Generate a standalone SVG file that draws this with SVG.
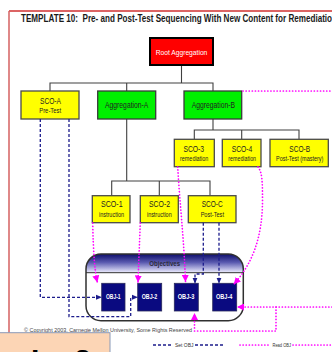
<svg xmlns="http://www.w3.org/2000/svg" width="332" height="352" viewBox="0 0 332 352">
<style>
text{font-family:"Liberation Sans",Arial,sans-serif;}
.title{font-size:10.5px;font-weight:bold;fill:#1a1a1a;white-space:pre;}
.lbl{font-size:8.5px;fill:#222;text-anchor:middle;}
.sub{font-size:6.5px;fill:#222;text-anchor:middle;}
.objt{font-size:6.5px;font-weight:bold;fill:#fff;text-anchor:middle;}
.yel{fill:#ffff00;stroke:#4a4a4a;stroke-width:1.3;}
.grn{fill:#00f000;stroke:#3a3a3a;stroke-width:1.3;}
.obj{fill:#0a0a80;stroke:#2a2a5a;stroke-width:0.8;}
.tree{fill:none;stroke:#404040;stroke-width:1.1;}
.set{fill:none;stroke:#1c1c8c;stroke-width:1.3;stroke-dasharray:3 2;}
.read{fill:none;stroke:#ff00ff;stroke-width:1.7;stroke-dasharray:0.1 3;stroke-linecap:round;}
.small{font-size:5.2px;fill:#444;}
.leg{font-size:6px;fill:#333;}
</style>
<defs>
<marker id="ab" markerUnits="userSpaceOnUse" markerWidth="6" markerHeight="6" viewBox="0 0 6 6" refX="5.5" refY="3" orient="auto">
<path d="M0,0.5 L6,3 L0,5.5 Z" fill="#1c1c8c"/>
</marker>
<marker id="am" markerUnits="userSpaceOnUse" markerWidth="7" markerHeight="7" viewBox="0 0 7 7" refX="6.5" refY="3.5" orient="auto">
<path d="M0,0 L7,3.5 L0,7 Z" fill="#ff00ff"/>
</marker>
<linearGradient id="hg" x1="0" y1="0" x2="0" y2="1">
<stop offset="0" stop-color="#0c0c6a"/>
<stop offset="0.45" stop-color="#5a5ab0"/>
<stop offset="1" stop-color="#eeeeff"/>
</linearGradient>
<clipPath id="cc"><rect x="86" y="254" width="157.3" height="66.7" rx="15" ry="15"/></clipPath>
<clipPath id="ov"><rect x="0" y="333" width="110" height="19"/></clipPath>
</defs>
<rect width="332" height="352" fill="#ffffff"/>
<!-- frame -->
<line x1="9" y1="11" x2="332" y2="11" stroke="#d03030" stroke-width="1.5"/>
<line x1="9" y1="11" x2="9" y2="334" stroke="#d46060" stroke-width="1.5"/>
<text class="title" x="21" y="22" textLength="316" lengthAdjust="spacingAndGlyphs">TEMPLATE 10:  Pre- and Post-Test Sequencing With New Content for Remediation</text>

<!-- tree lines -->
<g id="tree">
<path class="tree" d="M181.5,65 V83 M50,91 V83 H213 V91 M126.7,83 V91"/>
<path class="tree" d="M213,119 V130 M194.3,139.3 V130 H299 V139.3 M241.7,130 V139.3"/>
<path class="tree" d="M126.7,119 V181 M111.7,195.7 V181 H210 V195.7 M159.3,181 V195.7"/>
</g>

<g id="root">
<rect x="150" y="38" width="63" height="27" fill="#ff0000" stroke="#000" stroke-width="2"/>
<text x="181.5" y="55" font-size="8" fill="#fff" text-anchor="middle" textLength="51.7" lengthAdjust="spacingAndGlyphs">Root Aggregation</text>
</g>
<g id="sco-a">
<rect class="yel" x="21" y="91" width="58" height="28"/>
<text class="lbl" x="50.5" y="104" textLength="21" lengthAdjust="spacingAndGlyphs">SCO-A</text>
<text class="sub" x="50.2" y="113.3" textLength="22" lengthAdjust="spacingAndGlyphs">Pre-Test</text>
</g>
<g id="agg-a">
<rect class="grn" x="97.7" y="91" width="58" height="28"/>
<text class="lbl" x="126.7" y="107.7" textLength="43.3" lengthAdjust="spacingAndGlyphs">Aggregation-A</text>
</g>
<g id="agg-b">
<rect class="grn" x="184" y="91" width="57.7" height="28"/>
<text class="lbl" x="213.3" y="107.7" textLength="43.3" lengthAdjust="spacingAndGlyphs">Aggregation-B</text>
</g>
<g id="sco-3">
<rect class="yel" x="174.3" y="139.3" width="40" height="27.4"/>
<text class="lbl" x="193.8" y="151.7" textLength="20.7" lengthAdjust="spacingAndGlyphs">SCO-3</text>
<text class="sub" x="194.2" y="161" textLength="28.3" lengthAdjust="spacingAndGlyphs">remediation</text>
</g>
<g id="sco-4">
<rect class="yel" x="222.3" y="139.3" width="38.7" height="27.4"/>
<text class="lbl" x="242" y="151.7" textLength="20.7" lengthAdjust="spacingAndGlyphs">SCO-4</text>
<text class="sub" x="242.2" y="161" textLength="27.7" lengthAdjust="spacingAndGlyphs">remediation</text>
</g>
<g id="sco-b">
<rect class="yel" x="270" y="139.3" width="58.3" height="27.4"/>
<text class="lbl" x="299.7" y="151.7" textLength="20.7" lengthAdjust="spacingAndGlyphs">SCO-B</text>
<text class="sub" x="299.7" y="161" textLength="47.3" lengthAdjust="spacingAndGlyphs">Post-Test (mastery)</text>
</g>
<g id="sco-1">
<rect class="yel" x="92.3" y="195.7" width="37.7" height="27"/>
<text class="lbl" x="111.8" y="207" textLength="21.7" lengthAdjust="spacingAndGlyphs">SCO-1</text>
<text class="sub" x="111.5" y="216.7" textLength="25" lengthAdjust="spacingAndGlyphs">instruction</text>
</g>
<g id="sco-2">
<rect class="yel" x="140.3" y="195.7" width="38" height="27"/>
<text class="lbl" x="159.5" y="207" textLength="21" lengthAdjust="spacingAndGlyphs">SCO-2</text>
<text class="sub" x="159.3" y="216.7" textLength="24.7" lengthAdjust="spacingAndGlyphs">instruction</text>
</g>
<g id="sco-c">
<rect class="yel" x="188.3" y="195.7" width="47.7" height="27"/>
<text class="lbl" x="212.2" y="207" textLength="21" lengthAdjust="spacingAndGlyphs">SCO-C</text>
<text class="sub" x="212.3" y="216.7" textLength="23.3" lengthAdjust="spacingAndGlyphs">Post-Test</text>
</g>

<g id="objectives">
<rect x="86" y="254" width="157.3" height="66.7" rx="15" ry="15" fill="#ffffff"/>
<rect x="86" y="254" width="157.3" height="18.7" fill="url(#hg)" clip-path="url(#cc)"/>
<line x1="86" y1="272.7" x2="243.3" y2="272.7" stroke="#303030" stroke-width="1"/>
<rect x="86" y="254" width="157.3" height="66.7" rx="15" ry="15" fill="none" stroke="#303030" stroke-width="1.5"/>
<text x="164.7" y="265.7" font-size="7" font-weight="bold" fill="#2a2a3a" text-anchor="middle" textLength="30.7" lengthAdjust="spacingAndGlyphs">Objectives</text>
</g>
<g id="obj-1">
<rect class="obj" x="101.7" y="283.3" width="23.3" height="27.7"/>
<text class="objt" x="113.3" y="299" textLength="14.7" lengthAdjust="spacingAndGlyphs">OBJ-1</text>
</g>
<g id="obj-2">
<rect class="obj" x="137.7" y="283.3" width="24" height="27.7"/>
<text class="objt" x="149.5" y="299" textLength="15.6" lengthAdjust="spacingAndGlyphs">OBJ-2</text>
</g>
<g id="obj-3">
<rect class="obj" x="174.3" y="283.3" width="24" height="27.7"/>
<text class="objt" x="186" y="299" textLength="16.6" lengthAdjust="spacingAndGlyphs">OBJ-3</text>
</g>
<g id="obj-4">
<rect class="obj" x="212.7" y="283.3" width="24" height="27.7"/>
<text class="objt" x="224.2" y="299" textLength="16.3" lengthAdjust="spacingAndGlyphs">OBJ-4</text>
</g>

<g id="connectors">
<path class="set" d="M40.3,119 V297.3 H101.5" marker-end="url(#ab)"/>
<path class="set" d="M69,119 V316.7 H130.7 V297.3 H137.5" marker-end="url(#ab)"/>
<path class="set" d="M203.3,222.7 V274 H195 V283.2" marker-end="url(#ab)"/>
<path class="set" d="M219,222.7 V283.2" marker-end="url(#ab)"/>
<path class="read" d="M92.7,223 Q93.5,266 97.3,282" marker-end="url(#am)"/>
<path class="read" d="M140.3,223 L138,282" marker-end="url(#am)"/>
<path class="read" d="M177.7,167 C179.5,200 184,240 185.5,281.5" marker-end="url(#am)"/>
<path class="read" d="M258,167 C262,172 262.5,180 262.5,200 C262.5,238 252,264 234,284" marker-end="url(#am)"/>
<path class="read" d="M243,91 H332"/>
<path class="read" d="M332,307 H237.5" marker-end="url(#am)"/>
<path class="read" d="M276,307 V331 H194.5 V313.5" marker-end="url(#am)"/>
<path class="set" d="M153,345 H173 M195,345 H225"/>
<path class="read" d="M240,345 H271 M293,345 H332"/>
</g>

<text class="small" x="24" y="332.3" textLength="168" lengthAdjust="spacingAndGlyphs">© Copyright 2003, Carnegie Mellon University, Some Rights Reserved</text>
<text class="leg" x="175" y="347" textLength="18.5" lengthAdjust="spacingAndGlyphs">Set OBJ</text>
<text class="leg" x="272.5" y="347" textLength="18.5" lengthAdjust="spacingAndGlyphs">Read OBJ</text>

<g id="overlay">
<rect x="-2" y="332.7" width="112" height="22" fill="#fcd5b5" stroke="#8a9ab8" stroke-width="1"/>
<text x="31" y="370" font-size="30" font-weight="bold" fill="#000" clip-path="url(#ov)">La 2</text>
</g>
</svg>
